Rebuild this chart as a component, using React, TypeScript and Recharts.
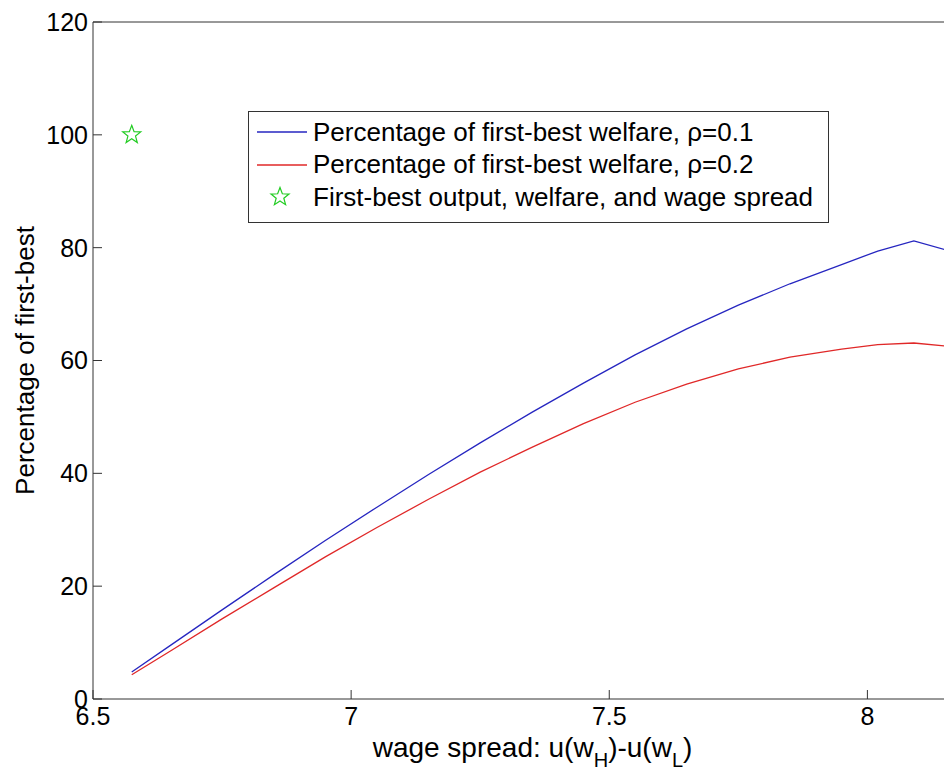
import React from 'react';
import { ComposedChart, Line, Scatter, XAxis, YAxis, Legend, Label } from 'recharts';

// wage spread u(w_H)-u(w_L) at which welfare was evaluated
const spread = [6.575, 6.65, 6.75, 6.85, 6.95, 7.05, 7.15, 7.25, 7.35, 7.45, 7.55, 7.65, 7.75, 7.85, 7.95, 8.02, 8.09, 8.16];
// percentage of first-best welfare, rho = 0.1
const welfareRho01 = [4.8, 9.5, 15.8, 22.0, 28.1, 34.0, 39.8, 45.4, 50.8, 56.0, 61.0, 65.6, 69.8, 73.6, 77.0, 79.4, 81.2, 79.4];
// percentage of first-best welfare, rho = 0.2
const welfareRho02 = [4.3, 8.5, 14.2, 19.7, 25.2, 30.4, 35.4, 40.2, 44.6, 48.8, 52.6, 55.8, 58.5, 60.6, 62.0, 62.8, 63.1, 62.5];
// first-best point
const firstBest = [{ x: 6.575, y: 100 }];

const xTicks = [6.5, 7, 7.5, 8];
const yTicks = [0, 20, 40, 60, 80, 100, 120];

const legendLabels = [
  'Percentage of first-best welfare, \u03c1=0.1',
  'Percentage of first-best welfare, \u03c1=0.2',
  'First-best output, welfare, and wage spread',
];

const rows = spread.map((x, i) => ({ x, rho01: welfareRho01[i], rho02: welfareRho02[i] }));

const FONT = '"Liberation Sans", Arial, Helvetica, sans-serif';
const AXIS = '#333333';
const BLUE = '#2626c0';
const RED = '#e02828';
const GREEN = '#22cc22';

function starPoints(cx: number, cy: number, R: number, r: number) {
  const pts: string[] = [];
  for (let i = 0; i < 10; i++) {
    const rad = i % 2 === 0 ? R : r;
    const a = -Math.PI / 2 + (i * Math.PI) / 5;
    pts.push(`${cx + rad * Math.cos(a)},${cy + rad * Math.sin(a)}`);
  }
  return pts.join(' ');
}

const StarShape = (props: any) => (
  <polygon points={starPoints(props.cx, props.cy, 9.5, 4)} fill="none" stroke={GREEN} strokeWidth={1.2} />
);

const LegendBox = () => (
  <div
    style={{
      width: 581,
      height: 112,
      boxSizing: 'border-box',
      border: `1px solid ${AXIS}`,
      background: '#fff',
      fontFamily: FONT,
      fontSize: 26,
      color: '#000',
      paddingTop: 4,
      textAlign: 'left',
    }}
  >
    {legendLabels.map((label, i) => (
      <div key={label} style={{ display: 'flex', alignItems: 'center', height: 32.5, whiteSpace: 'nowrap' }}>
        <svg width={64} height={32} style={{ flex: 'none' }}>
          {i < 2 ? (
            <line x1={8} x2={58} y1={16} y2={16} stroke={i === 0 ? BLUE : RED} strokeWidth={1.3} />
          ) : (
            <polygon points={starPoints(31, 16, 9.5, 4)} fill="none" stroke={GREEN} strokeWidth={1.2} />
          )}
        </svg>
        <span>{label}</span>
      </div>
    ))}
  </div>
);

const XLabel = (props: any) => {
  const vb = props.viewBox || { x: 93, y: 699, width: 857 };
  return (
    <text x={vb.x + vb.width / 2 + 11} y={vb.y + 58} textAnchor="middle" fontSize={28} fontFamily={FONT} fill="#000">
      wage spread: u(w
      <tspan dy={10} fontSize={20}>H</tspan>
      <tspan dy={-10}>)-u(w</tspan>
      <tspan dy={10} fontSize={20}>L</tspan>
      <tspan dy={-10}>)</tspan>
    </text>
  );
};

const YLabel = (props: any) => {
  const vb = props.viewBox || { x: 0, y: 22, height: 677 };
  const cy = vb.y + vb.height / 2;
  return (
    <text x={34} y={cy} transform={`rotate(-90 34 ${cy})`} textAnchor="middle" fontSize={26} fontFamily={FONT} fill="#000">
      Percentage of first-best
    </text>
  );
};

export default function App() {
  const tickStyle = { fontSize: 25, fill: '#000', fontFamily: FONT };
  return (
    <div style={{ position: 'absolute', left: 0, top: 0, width: 944, height: 767, overflow: 'hidden', background: '#fff' }}>
      <ComposedChart width={960} height={767} data={rows} margin={{ top: 0, right: 0, bottom: 0, left: 0 }}>
        <XAxis
          xAxisId="bottom"
          dataKey="x"
          type="number"
          domain={[6.5, 8.16]}
          ticks={xTicks}
          interval={0}
          allowDataOverflow
          height={68}
          tickSize={-9}
          tickMargin={17}
          tick={tickStyle}
          axisLine={{ stroke: AXIS }}
          tickLine={{ stroke: AXIS }}
        >
          <Label content={XLabel} />
        </XAxis>
        <XAxis
          xAxisId="top"
          orientation="top"
          dataKey="x"
          type="number"
          domain={[6.5, 8.16]}
          ticks={xTicks}
          interval={0}
          allowDataOverflow
          height={22}
          tickSize={-9}
          tick={false}
          axisLine={{ stroke: AXIS }}
          tickLine={{ stroke: AXIS }}
        />
        <YAxis
          yAxisId="left"
          type="number"
          domain={[0, 120]}
          ticks={yTicks}
          interval={0}
          allowDataOverflow
          width={93}
          tickSize={-9}
          tickMargin={14}
          tick={tickStyle}
          axisLine={{ stroke: AXIS }}
          tickLine={{ stroke: AXIS }}
        >
          <Label content={YLabel} />
        </YAxis>
        <YAxis
          yAxisId="right"
          orientation="right"
          dataKey="rho01"
          type="number"
          domain={[0, 120]}
          ticks={yTicks}
          interval={0}
          allowDataOverflow
          width={10}
          tickSize={-9}
          tick={false}
          axisLine={{ stroke: AXIS }}
          tickLine={{ stroke: AXIS }}
        />
        <Line
          xAxisId="bottom"
          yAxisId="left"
          type="linear"
          dataKey="rho01"
          stroke={BLUE}
          strokeWidth={1.3}
          dot={false}
          isAnimationActive={false}
        />
        <Line
          xAxisId="bottom"
          yAxisId="left"
          type="linear"
          dataKey="rho02"
          stroke={RED}
          strokeWidth={1.3}
          dot={false}
          isAnimationActive={false}
        />
        <Scatter
          xAxisId="bottom"
          yAxisId="left"
          data={firstBest}
          dataKey="y"
          shape={StarShape}
          isAnimationActive={false}
        />
        <Legend
          layout="horizontal"
          verticalAlign="middle"
          align="center"
          wrapperStyle={{ left: 248, top: 111, width: 581, height: 112 }}
          content={LegendBox}
        />
      </ComposedChart>
    </div>
  );
}
